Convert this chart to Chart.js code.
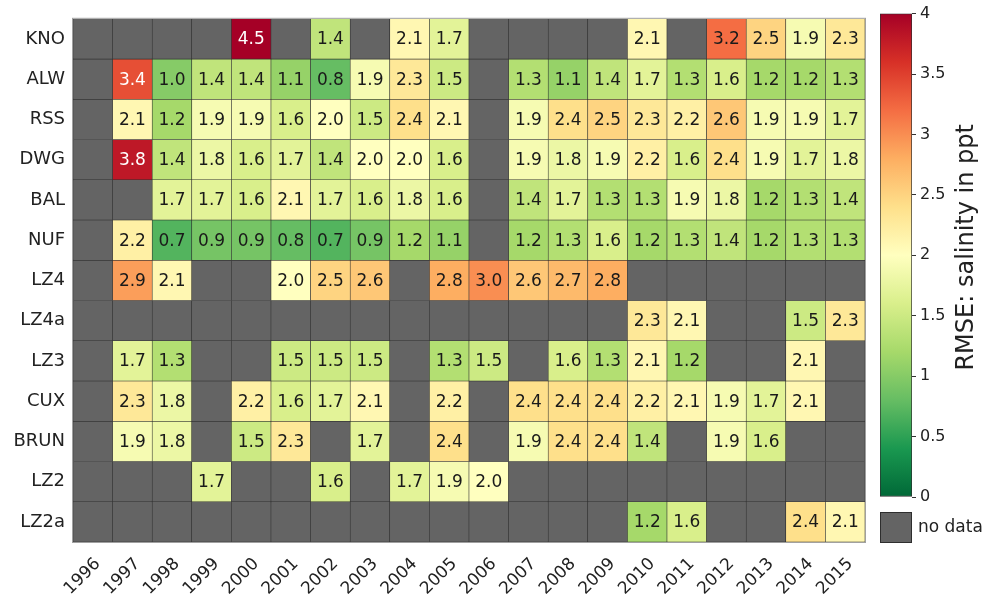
<!DOCTYPE html>
<html>
<head>
<meta charset="utf-8">
<script src="https://cdn.jsdelivr.net/npm/chart.js@4.4.0/dist/chart.umd.min.js"></script>
<style>
  html, body { margin: 0; padding: 0; background: #fff; }
  #wrap { position: relative; width: 984px; height: 602px; }
  #heat { position: absolute; left: 0; top: 0; }
  #cbar { position: absolute; left: 865px; top: 0; }
</style>
</head>
<body>
<div id="wrap">
  <canvas id="heat" width="870" height="602"></canvas>
  <canvas id="cbar" width="119" height="602"></canvas>
</div>
<script>
// Years on the x axis, stations on the y axis (top to bottom)
const years = ['1996', '1997', '1998', '1999', '2000', '2001', '2002', '2003', '2004', '2005',
  '2006', '2007', '2008', '2009', '2010', '2011', '2012', '2013', '2014', '2015'];
const stations = ['KNO', 'ALW', 'RSS', 'DWG', 'BAL', 'NUF', 'LZ4', 'LZ4a', 'LZ3', 'CUX', 'BRUN', 'LZ2', 'LZ2a'];

// RMSE salinity per station and year (null = no data)
const kno  = [null, null, null, null, 4.5, null, 1.4, null, 2.1, 1.7, null, null, null, null, 2.1, null, 3.2, 2.5, 1.9, 2.3];
const alw  = [null, 3.4, 1.0, 1.4, 1.4, 1.1, 0.8, 1.9, 2.3, 1.5, null, 1.3, 1.1, 1.4, 1.7, 1.3, 1.6, 1.2, 1.2, 1.3];
const rss  = [null, 2.1, 1.2, 1.9, 1.9, 1.6, 2.0, 1.5, 2.4, 2.1, null, 1.9, 2.4, 2.5, 2.3, 2.2, 2.6, 1.9, 1.9, 1.7];
const dwg  = [null, 3.8, 1.4, 1.8, 1.6, 1.7, 1.4, 2.0, 2.0, 1.6, null, 1.9, 1.8, 1.9, 2.2, 1.6, 2.4, 1.9, 1.7, 1.8];
const bal  = [null, null, 1.7, 1.7, 1.6, 2.1, 1.7, 1.6, 1.8, 1.6, null, 1.4, 1.7, 1.3, 1.3, 1.9, 1.8, 1.2, 1.3, 1.4];
const nuf  = [null, 2.2, 0.7, 0.9, 0.9, 0.8, 0.7, 0.9, 1.2, 1.1, null, 1.2, 1.3, 1.6, 1.2, 1.3, 1.4, 1.2, 1.3, 1.3];
const lz4  = [null, 2.9, 2.1, null, null, 2.0, 2.5, 2.6, null, 2.8, 3.0, 2.6, 2.7, 2.8, null, null, null, null, null, null];
const lz4a = [null, null, null, null, null, null, null, null, null, null, null, null, null, null, 2.3, 2.1, null, null, 1.5, 2.3];
const lz3  = [null, 1.7, 1.3, null, null, 1.5, 1.5, 1.5, null, 1.3, 1.5, null, 1.6, 1.3, 2.1, 1.2, null, null, 2.1, null];
const cux  = [null, 2.3, 1.8, null, 2.2, 1.6, 1.7, 2.1, null, 2.2, null, 2.4, 2.4, 2.4, 2.2, 2.1, 1.9, 1.7, 2.1, null];
const brun = [null, 1.9, 1.8, null, 1.5, 2.3, null, 1.7, null, 2.4, null, 1.9, 2.4, 2.4, 1.4, null, 1.9, 1.6, null, null];
const lz2  = [null, null, null, 1.7, null, null, 1.6, null, 1.7, 1.9, 2.0, null, null, null, null, null, null, null, null, null];
const lz2a = [null, null, null, null, null, null, null, null, null, null, null, null, null, null, 1.2, 1.6, null, null, 2.4, 2.1];
const rmse = [kno, alw, rss, dwg, bal, nuf, lz4, lz4a, lz3, cux, brun, lz2, lz2a];

// Colour bar range and ticks
const vmin = 0;
const vmax = 4;
const cbarTicks = [0, 0.5, 1, 1.5, 2, 2.5, 3, 3.5, 4];

const FONT = '"DejaVu Sans", "Liberation Sans", sans-serif';
const NO_DATA = '#646464';
const TEXT = '#222';

// RdYlGn anchor colours, used reversed (green = low, red = high)
const rdylgn = [
  [165, 0, 38], [215, 48, 39], [244, 109, 67], [253, 174, 97], [254, 224, 139], [255, 255, 191],
  [217, 239, 139], [166, 217, 106], [102, 189, 99], [26, 152, 80], [0, 104, 55]
];

function cmap(v) {
  const t = 1 - Math.min(Math.max((v - vmin) / (vmax - vmin), 0), 1);
  const p = t * 10;
  const i = Math.min(Math.floor(p), 9);
  const f = p - i;
  const a = rdylgn[i], b = rdylgn[i + 1];
  const c = a.map((x, k) => Math.round(x + (b[k] - x) * f));
  return 'rgb(' + c.join(',') + ')';
}

// Draw the value in each cell plus the light frame round the plot
const cellLabels = {
  id: 'cellLabels',
  afterDatasetsDraw(chart) {
    const ctx = chart.ctx;
    ctx.save();
    ctx.font = '17px ' + FONT;
    ctx.textAlign = 'center';
    ctx.textBaseline = 'middle';
    chart.data.datasets.forEach((ds, r) => {
      chart.getDatasetMeta(r).data.forEach((bar, c) => {
        const v = rmse[r][c];
        if (v === null) return;
        ctx.fillStyle = v >= 3.3 ? '#fff' : '#1a1a1a';
        ctx.fillText(v.toFixed(1), bar.x, (bar.y + bar.base) / 2 + 1);
      });
    });
    ctx.restore();
  },
  afterDraw(chart) {
    const a = chart.chartArea;
    const ctx = chart.ctx;
    ctx.save();
    ctx.strokeStyle = '#a0a0a0';
    ctx.lineWidth = 1;
    ctx.strokeRect(a.left - 0.5, a.top - 0.5, a.right - a.left + 1, a.bottom - a.top + 1);
    ctx.restore();
  }
};

const heatDatasets = stations.map((name, r) => ({
  label: name,
  data: years.map(() => [r - 0.5, r + 0.5]),
  backgroundColor: rmse[r].map(v => (v === null ? NO_DATA : cmap(v))),
  borderColor: '#2e2e2e',
  borderWidth: 0.6,
  borderSkipped: false,
  barPercentage: 1,
  categoryPercentage: 1,
  stack: 'grid'
}));

new Chart(document.getElementById('heat'), {
  type: 'bar',
  data: { labels: years, datasets: heatDatasets },
  options: {
    responsive: false,
    animation: false,
    layout: { padding: { left: 0, top: 13, right: 5, bottom: 0 } },
    plugins: { legend: { display: false }, tooltip: { enabled: false } },
    scales: {
      x: {
        type: 'category',
        stacked: true,
        grid: { display: false, drawTicks: false },
        border: { display: false },
        ticks: {
          autoSkip: false, minRotation: 45, maxRotation: 45, padding: 12, labelOffset: 5,
          font: { family: FONT, size: 17 }, color: TEXT
        },
        afterFit(scale) {
          scale.height = 60;
          scale.paddingLeft = 0;
          scale.paddingRight = 0;
        }
      },
      y: {
        type: 'linear',
        reverse: true,
        stacked: false,
        min: -0.5,
        max: 12.5,
        grid: { display: false, drawTicks: false },
        border: { display: false },
        afterBuildTicks(scale) { scale.ticks = stations.map((_, i) => ({ value: i })); },
        ticks: {
          padding: 8,
          font: { family: FONT, size: 18 }, color: TEXT,
          callback: v => stations[v]
        },
        afterFit(scale) { scale.width = 73; }
      }
    }
  },
  plugins: [cellLabels]
});

// Colour bar title and the "no data" swatch
const cbarExtras = {
  id: 'cbarExtras',
  afterDraw(chart) {
    const a = chart.chartArea;
    const ctx = chart.ctx;
    ctx.save();
    ctx.fillStyle = TEXT;
    ctx.font = '24px ' + FONT;
    ctx.textAlign = 'center';
    ctx.textBaseline = 'middle';
    ctx.translate(102, (a.top + a.bottom) / 2 - 8);
    ctx.rotate(-Math.PI / 2);
    ctx.fillText('RMSE: salinity in ppt', 0, 0);
    ctx.restore();

    ctx.save();
    ctx.fillStyle = NO_DATA;
    ctx.fillRect(a.left, 512, a.right - a.left, 31);
    ctx.strokeStyle = '#2e2e2e';
    ctx.lineWidth = 1;
    ctx.strokeRect(a.left + 0.5, 512.5, a.right - a.left - 1, 30);
    ctx.fillStyle = TEXT;
    ctx.font = '17px ' + FONT;
    ctx.textAlign = 'left';
    ctx.textBaseline = 'middle';
    ctx.fillText('no data', 53, 528);
    ctx.restore();
  }
};

new Chart(document.getElementById('cbar'), {
  type: 'bar',
  data: {
    labels: [''],
    datasets: [{
      data: [[vmin, vmax]],
      backgroundColor(c) {
        const a = c.chart.chartArea;
        if (!a) return NO_DATA;
        const g = c.chart.ctx.createLinearGradient(0, a.bottom, 0, a.top);
        for (let i = 0; i <= 10; i++) g.addColorStop(i / 10, cmap(vmin + (vmax - vmin) * i / 10));
        return g;
      },
      borderColor: '#2e2e2e',
      borderWidth: 1,
      borderSkipped: false,
      barPercentage: 1,
      categoryPercentage: 1
    }]
  },
  options: {
    responsive: false,
    animation: false,
    layout: { padding: { left: 15, top: 13, right: 0, bottom: 105 } },
    plugins: { legend: { display: false }, tooltip: { enabled: false } },
    scales: {
      x: { display: false },
      y: {
        position: 'right',
        min: vmin,
        max: vmax,
        afterBuildTicks(scale) { scale.ticks = cbarTicks.map(v => ({ value: v })); },
        ticks: {
          padding: 4,
          font: { family: FONT, size: 16 }, color: TEXT,
          callback: v => String(v)
        },
        grid: { drawOnChartArea: false, tickLength: 4, color: '#333' },
        border: { display: false },
        afterFit(scale) { scale.width = 72; }
      }
    }
  },
  plugins: [cbarExtras]
});
</script>
</body>
</html>
